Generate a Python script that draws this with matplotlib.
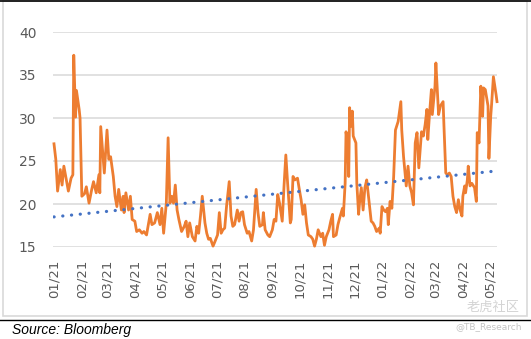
import matplotlib.pyplot as plt
import matplotlib.dates as mdates
from matplotlib.lines import Line2D
import pandas as pd

# days since 2021-01-01 and the value
obs_day = [0, 2, 4, 7, 9, 11, 16, 19, 21, 22, 24, 25, 28, 29, 31, 34, 36, 39, 42, 44,
           47, 50, 51, 52, 56, 59, 61, 63, 66, 68, 70, 72, 75, 77, 78, 80, 83, 85, 87, 90,
           92, 95, 98, 100, 103, 105, 107, 109, 112, 115, 118, 120, 122, 125, 127, 129, 131, 133, 135, 137,
           139, 142, 145, 147, 149, 151, 154, 157, 159, 161, 163, 165, 168, 170, 172, 174, 177, 179, 182, 184,
           186, 188, 190, 192, 195, 197, 199, 201, 204, 206, 208, 210, 212, 215, 217, 220, 222, 225, 227, 229,
           232, 233, 235, 238, 240, 243, 245, 247, 249, 251, 254, 256, 258, 260, 263, 264, 266, 268, 271, 273,
           275, 277, 279, 281, 283, 286, 288, 290, 292, 294, 297, 299, 301, 303, 306, 308, 310, 311, 314, 316,
           318, 321, 322, 324, 325, 327, 328, 329, 330, 332, 333, 336, 337, 339, 340, 342, 344, 346, 348, 350,
           353, 355, 357, 359, 362, 363, 365, 367, 369, 371, 372, 374, 376, 378, 380, 383, 386, 387, 389, 392,
           394, 396, 398, 400, 402, 404, 406, 409, 411, 413, 415, 416, 418, 420, 421, 424, 425, 427, 428, 430,
           433, 434, 436, 438, 440, 442, 444, 446, 448, 450, 452, 454, 455, 457, 458, 460, 461, 463, 465, 468,
           470, 471, 473, 475, 477, 478, 480, 483, 484, 486, 487, 489, 492, 493]
values = [27.0, 25.2, 21.5, 24.0, 22.2, 24.4, 21.5, 23.0, 23.4, 37.3, 30.1, 33.2, 31.0, 30.0, 20.9, 21.2, 22.0, 20.1, 21.7, 22.6,
          21.3, 23.4, 21.3, 29.0, 23.6, 28.6, 25.2, 25.5, 23.2, 20.9, 19.7, 21.7, 19.3, 20.9, 19.0, 21.3, 19.3, 20.9, 18.2, 18.0,
          16.8, 17.0, 16.6, 16.8, 16.4, 17.6, 18.8, 17.6, 17.8, 19.0, 17.6, 19.5, 16.6, 20.1, 27.7, 20.1, 20.9, 20.1, 22.2, 19.3,
          18.2, 16.8, 17.4, 18.0, 16.2, 17.8, 16.2, 15.7, 17.4, 16.6, 18.6, 20.9, 17.8, 16.6, 15.9, 16.0, 15.1, 15.6, 16.4, 19.0,
          16.6, 17.0, 17.2, 19.7, 22.6, 18.6, 17.4, 17.6, 19.3, 18.0, 19.0, 19.1, 17.6, 16.6, 16.8, 15.7, 17.0, 21.7, 19.0, 17.4,
          17.6, 19.0, 17.0, 16.4, 16.2, 17.0, 18.2, 18.0, 21.1, 20.1, 18.0, 22.1, 25.7, 22.4, 17.8, 18.2, 23.2, 22.8, 23.0, 21.7,
          20.5, 18.8, 19.9, 17.8, 16.4, 16.2, 15.9, 15.1, 15.9, 17.0, 16.2, 16.6, 15.2, 16.2, 17.0, 18.0, 18.8, 16.2, 16.4, 17.6,
          18.4, 19.5, 18.6, 22.4, 28.4, 26.7, 23.2, 31.2, 29.0, 30.8, 27.9, 27.1, 22.4, 18.8, 20.1, 21.9, 19.3, 21.9, 22.8, 20.9,
          18.0, 17.8, 17.4, 16.8, 17.2, 16.6, 19.7, 19.3, 19.1, 19.5, 17.6, 20.3, 19.5, 23.2, 28.6, 29.6, 31.9, 28.6, 25.5, 22.1,
          24.4, 22.1, 21.3, 19.9, 27.1, 28.3, 24.2, 28.4, 27.9, 29.2, 31.0, 27.5, 30.6, 33.3, 30.4, 33.7, 36.4, 32.5, 30.4, 31.4,
          31.9, 29.0, 23.6, 23.4, 23.6, 23.2, 20.9, 19.7, 19.0, 20.5, 19.3, 18.6, 20.9, 22.1, 21.3, 22.8, 24.4, 22.1, 22.4, 21.9,
          20.3, 28.3, 27.1, 33.7, 30.2, 33.5, 33.3, 31.4, 25.3, 30.2, 31.6, 34.8, 32.7, 31.9]

# trendline end values
trend_days = [0, 493]
trend_vals = [18.5, 23.85]

y_ticks = [15, 20, 25, 30, 35, 40]
start = pd.Timestamp('2021-01-01')
dates = start + pd.to_timedelta(obs_day, unit='D')
trend_dates = start + pd.to_timedelta(trend_days, unit='D')

fig = plt.figure(figsize=(5.31, 3.39), dpi=100)
ax = fig.add_axes([53 / 531, 1 - 247 / 339, 444 / 531, 215 / 339])

ax.plot(trend_dates, trend_vals, color='#4472C4', linewidth=2.3,
        linestyle=(0, (0.05, 2.7)), dash_capstyle='round', zorder=3)
ax.plot(dates, values, color='#ED7D31', linewidth=2.0, zorder=2, clip_on=False)

ax.set_ylim(15, 40)
ax.set_yticks(y_ticks)
ax.set_xlim(start - pd.Timedelta(days=1.1), start + pd.Timedelta(days=493))
ax.set_xticks(pd.date_range('2021-01-01', '2022-05-01', freq='MS'))
ax.xaxis.set_major_formatter(mdates.DateFormatter('%m/%y'))
ax.grid(axis='y', color='#d9d9d9', linewidth=1.1)
ax.set_axisbelow(True)
for s in ax.spines.values():
    s.set_visible(False)
ax.tick_params(axis='y', length=0, pad=12, labelsize=10, labelcolor='#595959')
ax.tick_params(axis='x', length=0, pad=9, labelsize=9.5, labelcolor='#595959', labelrotation=90)

# chart frame and rules
fig.add_artist(plt.Rectangle((3 / 531, 1 - 316 / 339), 524 / 531, 315 / 339, transform=fig.transFigure,
                             fill=False, edgecolor='#d9d9d9', linewidth=1.2))
fig.add_artist(Line2D([0, 1], [1 - 0.8 / 339, 1 - 0.8 / 339], transform=fig.transFigure, color='black', linewidth=1.2))
fig.add_artist(Line2D([0, 1], [1 - 319.5 / 339, 1 - 319.5 / 339], transform=fig.transFigure, color='black', linewidth=1.0))

fig.text(12 / 531, 1 - 330 / 339, 'Source: Bloomberg', fontsize=10, style='italic',
         family='Liberation Sans', va='center', ha='left')
fig.text(520 / 531, 1 - 307 / 339, '老虎社区', fontsize=9.5, color='#d4d4d4',
         family=['Noto Sans CJK SC', 'DejaVu Sans'], va='center', ha='right')
fig.text(522 / 531, 1 - 327 / 339, '@TB_Research', fontsize=6.5, color='#c4c4c4', va='center', ha='right')

plt.savefig('out.png', dpi=100)
